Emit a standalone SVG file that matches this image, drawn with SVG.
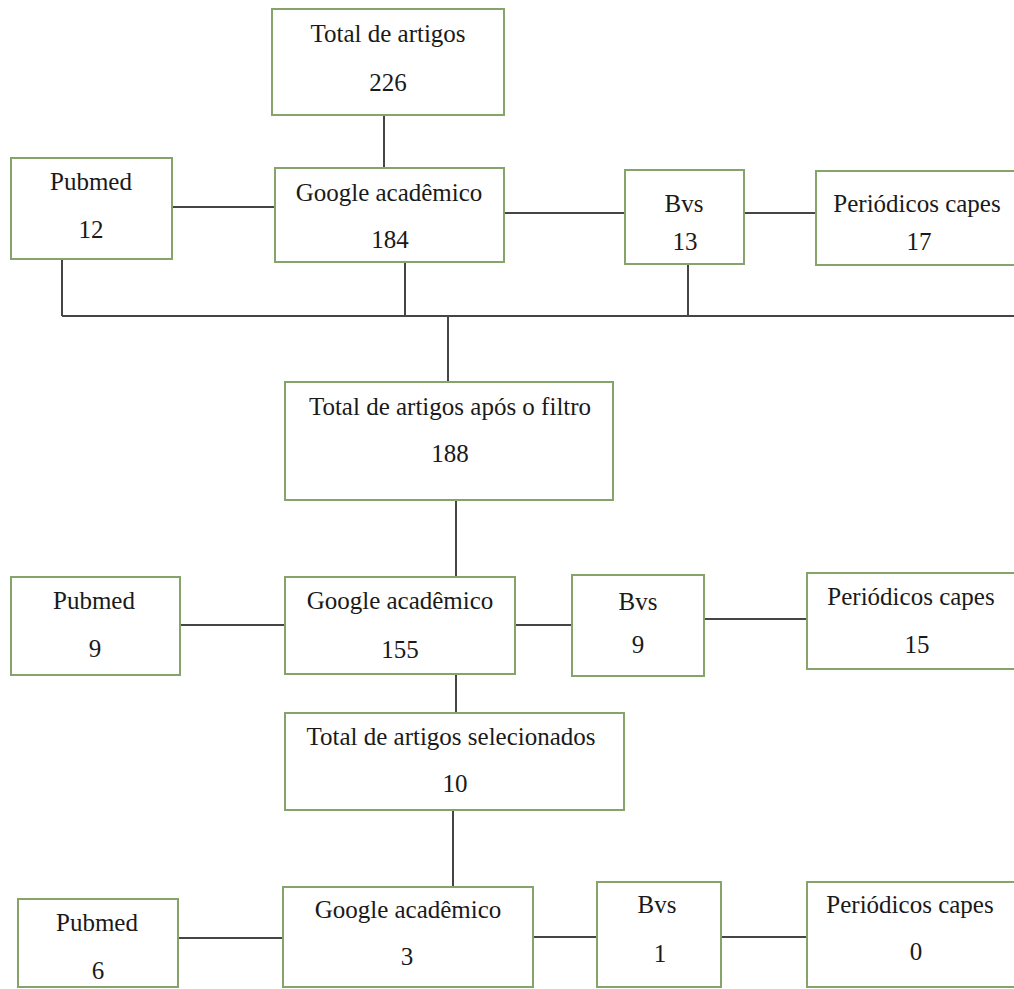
<svg xmlns="http://www.w3.org/2000/svg" width="1014" height="989" viewBox="0 0 1014 989">
<style>
.box{fill:#ffffff;stroke:#86a46a;stroke-width:2}
.t{font-family:"Liberation Serif","Times New Roman",serif;font-size:25px;fill:#1a1a1a;text-anchor:middle}
.c{stroke:#454545;stroke-width:2;fill:none}
</style>
<rect width="1014" height="989" fill="#ffffff"/>
<g id="connectors">
<line class="c" x1="384" y1="115" x2="384" y2="168"/>
<line class="c" x1="172" y1="207" x2="275" y2="207"/>
<line class="c" x1="504" y1="213" x2="625" y2="213"/>
<line class="c" x1="744" y1="213" x2="816" y2="213"/>
<line class="c" x1="62" y1="316" x2="1014" y2="316"/>
<line class="c" x1="62" y1="259" x2="62" y2="316"/>
<line class="c" x1="405" y1="262" x2="405" y2="316"/>
<line class="c" x1="688" y1="264" x2="688" y2="316"/>
<line class="c" x1="448" y1="316" x2="448" y2="382"/>
<line class="c" x1="456" y1="500" x2="456" y2="577"/>
<line class="c" x1="180" y1="625" x2="285" y2="625"/>
<line class="c" x1="515" y1="625" x2="572" y2="625"/>
<line class="c" x1="704" y1="619" x2="807" y2="619"/>
<line class="c" x1="456" y1="674" x2="456" y2="713"/>
<line class="c" x1="453" y1="810" x2="453" y2="887"/>
<line class="c" x1="178" y1="938" x2="283" y2="938"/>
<line class="c" x1="533" y1="937" x2="597" y2="937"/>
<line class="c" x1="721" y1="937" x2="807" y2="937"/>
</g>
<g id="total">
<rect class="box" x="272" y="9" width="232" height="106"/>
<text class="t" x="388" y="42">Total de artigos</text>
<text class="t" x="388" y="91">226</text>
</g>
<g id="pubmed1">
<rect class="box" x="11" y="158" width="161" height="101"/>
<text class="t" x="91" y="190">Pubmed</text>
<text class="t" x="91" y="238">12</text>
</g>
<g id="google1">
<rect class="box" x="275" y="168" width="229" height="94"/>
<text class="t" x="389" y="201">Google acadêmico</text>
<text class="t" x="390" y="248">184</text>
</g>
<g id="bvs1">
<rect class="box" x="625" y="170" width="119" height="94"/>
<text class="t" x="684" y="212">Bvs</text>
<text class="t" x="685" y="250">13</text>
</g>
<g id="periodicos1">
<rect class="box" x="816" y="171" width="210" height="94"/>
<text class="t" x="917" y="212">Periódicos capes</text>
<text class="t" x="919" y="250">17</text>
</g>
<g id="filtro">
<rect class="box" x="285" y="382" width="328" height="118"/>
<text class="t" x="450" y="415">Total de artigos após o filtro</text>
<text class="t" x="450" y="462">188</text>
</g>
<g id="pubmed2">
<rect class="box" x="11" y="577" width="169" height="98"/>
<text class="t" x="94" y="609">Pubmed</text>
<text class="t" x="95" y="657">9</text>
</g>
<g id="google2">
<rect class="box" x="285" y="577" width="230" height="97"/>
<text class="t" x="400" y="609">Google acadêmico</text>
<text class="t" x="400" y="658">155</text>
</g>
<g id="bvs2">
<rect class="box" x="572" y="575" width="132" height="101"/>
<text class="t" x="638" y="610">Bvs</text>
<text class="t" x="638" y="653">9</text>
</g>
<g id="periodicos2">
<rect class="box" x="807" y="573" width="220" height="96"/>
<text class="t" x="911" y="605">Periódicos capes</text>
<text class="t" x="917" y="653">15</text>
</g>
<g id="selecionados">
<rect class="box" x="285" y="713" width="339" height="97"/>
<text class="t" x="451" y="745">Total de artigos selecionados</text>
<text class="t" x="455" y="792">10</text>
</g>
<g id="pubmed3">
<rect class="box" x="18" y="899" width="160" height="88"/>
<text class="t" x="97" y="931">Pubmed</text>
<text class="t" x="98" y="979">6</text>
</g>
<g id="google3">
<rect class="box" x="283" y="887" width="250" height="100"/>
<text class="t" x="408" y="918">Google acadêmico</text>
<text class="t" x="407" y="965">3</text>
</g>
<g id="bvs3">
<rect class="box" x="597" y="882" width="124" height="105"/>
<text class="t" x="657" y="913">Bvs</text>
<text class="t" x="660" y="962">1</text>
</g>
<g id="periodicos3">
<rect class="box" x="807" y="882" width="220" height="105"/>
<text class="t" x="910" y="913">Periódicos capes</text>
<text class="t" x="916" y="960">0</text>
</g>
</svg>
